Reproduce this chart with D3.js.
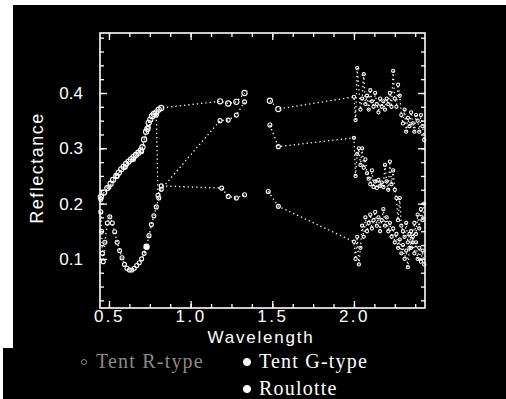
<!DOCTYPE html>
<html>
<head>
<meta charset="utf-8">
<script src="https://cdn.jsdelivr.net/npm/d3@7"></script>
<style>
  html, body { margin: 0; padding: 0; background: #fff; }
  svg { display: block; }
</style>
</head>
<body>
<svg id="chart" width="506" height="399"></svg>
<script>
// wavelength / reflectance
var waveA = [0.45, 0.47, 0.49, 0.51, 0.525, 0.545, 0.56, 0.575, 0.59, 0.605, 0.62, 0.635, 0.65, 0.665, 0.68, 0.695, 0.705, 0.715, 0.727, 0.735, 0.743, 0.753, 0.763, 0.775, 0.79, 0.805, 0.82,
    1.18, 1.23, 1.28, 1.33, 1.485, 1.537,
    2.00, 2.01, 2.02, 2.04, 2.05, 2.06, 2.07, 2.08, 2.09, 2.10, 2.11, 2.12, 2.13, 2.14, 2.15, 2.16, 2.17, 2.18, 2.19, 2.20,
    2.21, 2.22, 2.23, 2.24, 2.25, 2.26, 2.27, 2.28, 2.29, 2.30, 2.31, 2.32, 2.33, 2.34, 2.35, 2.36, 2.37, 2.38, 2.39, 2.40, 2.41, 2.42, 2.43];
var reflA = [0.212, 0.22, 0.228, 0.236, 0.243, 0.25, 0.256, 0.262, 0.267, 0.272, 0.276, 0.28, 0.284, 0.288, 0.292, 0.296, 0.302, 0.316, 0.33, 0.335, 0.346, 0.352, 0.358, 0.362, 0.365, 0.37, 0.373,
    0.385, 0.381, 0.384, 0.40, 0.386, 0.371,
    0.393, 0.351, 0.445, 0.37, 0.39, 0.434, 0.38, 0.395, 0.37, 0.405, 0.385, 0.375, 0.40, 0.38, 0.365, 0.39, 0.375, 0.385, 0.37, 0.39,
    0.38, 0.40, 0.375, 0.44, 0.39, 0.375, 0.415, 0.395, 0.36, 0.345, 0.37, 0.33, 0.355, 0.34, 0.365, 0.345, 0.33, 0.36, 0.35, 0.33, 0.36, 0.34, 0.315];

var waveB = [0.45, 0.455, 0.46, 0.465, 0.475, 0.49, 0.505, 0.52, 0.535, 0.55, 0.565, 0.58, 0.595, 0.61, 0.625, 0.64, 0.655, 0.67, 0.685, 0.70, 0.715, 0.73, 0.745, 0.76, 0.775, 0.79, 0.805, 0.82,
    1.18, 1.23, 1.28, 1.33, 1.485, 1.537,
    2.00, 2.01, 2.02, 2.03, 2.04, 2.05, 2.06, 2.07, 2.08, 2.09, 2.10, 2.11, 2.12, 2.13, 2.14, 2.15, 2.16, 2.17, 2.18, 2.19, 2.20,
    2.21, 2.22, 2.23, 2.24, 2.25, 2.26, 2.27, 2.28, 2.29, 2.30, 2.31, 2.32, 2.33, 2.34, 2.35, 2.36, 2.37, 2.38, 2.39, 2.40, 2.41, 2.42, 2.43];
var reflB = [0.185, 0.15, 0.11, 0.095, 0.13, 0.165, 0.176, 0.165, 0.149, 0.13, 0.115, 0.102, 0.09, 0.083, 0.08, 0.08, 0.083, 0.088, 0.093, 0.10, 0.11, 0.122, 0.142, 0.162, 0.178, 0.194, 0.21, 0.226,
    0.35, 0.351, 0.36, 0.384, 0.342, 0.303,
    0.319, 0.25, 0.29, 0.30, 0.27, 0.30, 0.265, 0.28, 0.255, 0.245, 0.235, 0.26, 0.23, 0.24, 0.228, 0.243, 0.232, 0.238, 0.23, 0.27, 0.24,
    0.225, 0.276, 0.235, 0.26, 0.225, 0.21, 0.17, 0.21, 0.16, 0.15, 0.14, 0.165, 0.13, 0.145, 0.12, 0.14, 0.11, 0.13, 0.10, 0.12, 0.095, 0.115, 0.09];

var waveC = [0.45, 0.50, 0.55, 0.60, 0.65, 0.70, 0.74, 0.79, 0.80, 0.82,
    1.19, 1.23, 1.28, 1.33, 1.475, 1.537,
    2.00, 2.01, 2.02, 2.03, 2.04, 2.05, 2.06, 2.07, 2.08, 2.09, 2.10, 2.11, 2.12, 2.13, 2.14, 2.15, 2.16, 2.17, 2.18, 2.19, 2.20,
    2.21, 2.22, 2.23, 2.24, 2.25, 2.26, 2.27, 2.28, 2.29, 2.30, 2.31, 2.32, 2.33, 2.34, 2.35, 2.36, 2.37, 2.38, 2.39, 2.40, 2.41, 2.42, 2.43];
var reflC = [0.208, 0.23, 0.25, 0.266, 0.28, 0.294, 0.338, 0.36, 0.215, 0.232,
    0.228, 0.213, 0.21, 0.216, 0.222, 0.195,
    0.131, 0.10, 0.14, 0.09, 0.12, 0.16, 0.14, 0.175, 0.15, 0.165, 0.18, 0.155, 0.17, 0.185, 0.16, 0.175, 0.15, 0.17, 0.19, 0.16, 0.175,
    0.15, 0.165, 0.14, 0.155, 0.13, 0.145, 0.12, 0.135, 0.11, 0.125, 0.10, 0.115, 0.085, 0.12, 0.15, 0.13, 0.165, 0.145, 0.18, 0.155, 0.19, 0.17, 0.20];

var markedPoint = [[0.73, 0.122]];

// water absorption band left out of the plot (no line drawn across it)
var waterGap = [1.35, 1.45];

var xMajor = [0.5, 1.0, 1.5, 2.0];
var yMajor = [0.1, 0.2, 0.3, 0.4];
var legendLabels = ["Tent R-type", "Tent G-type", "Roulotte"];

var svg = d3.select("#chart");

// scanned page: black panel with a white margin top-left
svg.append("rect").attr("x", 13).attr("y", 5).attr("width", 493).attr("height", 345).attr("fill", "#000");
svg.append("rect").attr("x", 3).attr("y", 348).attr("width", 503).attr("height", 51).attr("fill", "#000");

// plot box (pixels)
var boxLeft = 100, boxRight = 425, boxTop = 33, boxBottom = 308;

var x = d3.scaleLinear().domain([0.445, 2.435]).range([boxLeft, boxRight]);
var y = d3.scaleLinear().domain([0.0112, 0.5085]).range([boxBottom, boxTop]);

var xMinor = d3.range(0.5, 2.44, 0.125);
var yMinor = d3.range(0.025, 0.51, 0.025);

function styleAxis(g) {
    g.select(".domain").remove();
    g.selectAll("line").attr("stroke", "#fff").attr("stroke-width", 1.3);
    g.selectAll("text").attr("fill", "#fff").attr("font-family", "'Liberation Sans', Arial, sans-serif").attr("font-size", 17);
}

// bottom axis
svg.append("g").attr("transform", "translate(0," + boxBottom + ")")
    .call(d3.axisBottom(x).tickValues(xMinor).tickSize(-4).tickFormat(""))
    .call(styleAxis);
svg.append("g").attr("transform", "translate(0," + boxBottom + ")")
    .call(d3.axisBottom(x).tickValues(xMajor).tickSize(-7).tickPadding(2).tickFormat(d3.format(".1f")))
    .call(styleAxis)
    .selectAll("text").attr("letter-spacing", 2.5);

// top axis
svg.append("g").attr("transform", "translate(0," + boxTop + ")")
    .call(d3.axisTop(x).tickValues(xMinor).tickSize(-4).tickFormat(""))
    .call(styleAxis);
svg.append("g").attr("transform", "translate(0," + boxTop + ")")
    .call(d3.axisTop(x).tickValues(xMajor).tickSize(-7).tickFormat(""))
    .call(styleAxis);

// left axis
svg.append("g").attr("transform", "translate(" + boxLeft + ",0)")
    .call(d3.axisLeft(y).tickValues(yMinor).tickSize(-4).tickFormat(""))
    .call(styleAxis);
svg.append("g").attr("transform", "translate(" + boxLeft + ",0)")
    .call(d3.axisLeft(y).tickValues(yMajor).tickSize(-7).tickPadding(17).tickFormat(d3.format(".1f")))
    .call(styleAxis);

// right axis
svg.append("g").attr("transform", "translate(" + boxRight + ",0)")
    .call(d3.axisRight(y).tickValues(yMinor).tickSize(-4).tickFormat(""))
    .call(styleAxis);
svg.append("g").attr("transform", "translate(" + boxRight + ",0)")
    .call(d3.axisRight(y).tickValues(yMajor).tickSize(-7).tickFormat(""))
    .call(styleAxis);

// frame
svg.append("rect")
    .attr("x", boxLeft).attr("y", boxTop)
    .attr("width", boxRight - boxLeft).attr("height", boxBottom - boxTop)
    .attr("fill", "none").attr("stroke", "#fff").attr("stroke-width", 1.6);

// axis titles
svg.append("text")
    .attr("x", 261).attr("y", 343)
    .attr("text-anchor", "middle")
    .attr("fill", "#fff")
    .attr("font-family", "'Liberation Sans', Arial, sans-serif")
    .attr("font-size", 17)
    .attr("letter-spacing", 1.8)
    .text("Wavelength");

svg.append("text")
    .attr("transform", "translate(43,168) rotate(-90)")
    .attr("text-anchor", "middle")
    .attr("fill", "#fff")
    .attr("font-family", "'Liberation Sans', Arial, sans-serif")
    .attr("font-size", 18)
    .attr("letter-spacing", 1.5)
    .text("Reflectance");

// series
var series = [
    { wave: waveA, refl: reflA, r: 2.6 },
    { wave: waveB, refl: reflB, r: 2.0 },
    { wave: waveC, refl: reflC, r: 2.0 }
];

var line = d3.line()
    .x(function (d) { return x(d[0]); })
    .y(function (d) { return y(d[1]); });

var plot = svg.append("g");

series.forEach(function (s) {
    var pts = s.wave.map(function (w, i) { return [w, s.refl[i]]; });

    // split the trace at the water band
    var below = pts.filter(function (d) { return d[0] < waterGap[0]; });
    var above = pts.filter(function (d) { return d[0] > waterGap[1]; });

    [below, above].forEach(function (seg) {
        plot.append("path")
            .datum(seg)
            .attr("d", line)
            .attr("fill", "none")
            .attr("stroke", "#fff")
            .attr("stroke-width", 1.3)
            .attr("stroke-dasharray", "1.3,3");
    });

    plot.selectAll(null)
        .data(pts)
        .enter().append("circle")
        .attr("cx", function (d) { return x(d[0]); })
        .attr("cy", function (d) { return y(d[1]); })
        .attr("r", function (d) { return d[0] >= 2.0 ? 1.6 : s.r; })
        .attr("fill", "none")
        .attr("stroke", "#fff")
        .attr("stroke-width", 1.1);
});

plot.selectAll(null)
    .data(markedPoint)
    .enter().append("circle")
    .attr("cx", function (d) { return x(d[0]); })
    .attr("cy", function (d) { return y(d[1]); })
    .attr("r", 3.2)
    .attr("fill", "#fff");

// legend (serif, as typed under the figure)
var legendPos = [[84, 368], [247, 368], [247, 395]];
var legendColor = ["#8a8a8a", "#fff", "#fff"];

legendLabels.forEach(function (label, i) {
    var p = legendPos[i];
    svg.append("circle")
        .attr("cx", p[0]).attr("cy", p[1] - 6)
        .attr("r", i == 0 ? 2.5 : 3.6)
        .attr("fill", i == 0 ? "none" : legendColor[i])
        .attr("stroke", legendColor[i])
        .attr("stroke-width", 1);
    svg.append("text")
        .attr("x", p[0] + 12).attr("y", p[1])
        .attr("fill", legendColor[i])
        .attr("font-family", "'Liberation Serif', 'Times New Roman', serif")
        .attr("font-size", 20)
        .attr("letter-spacing", 1.2)
        .text(label);
});
</script>
</body>
</html>
